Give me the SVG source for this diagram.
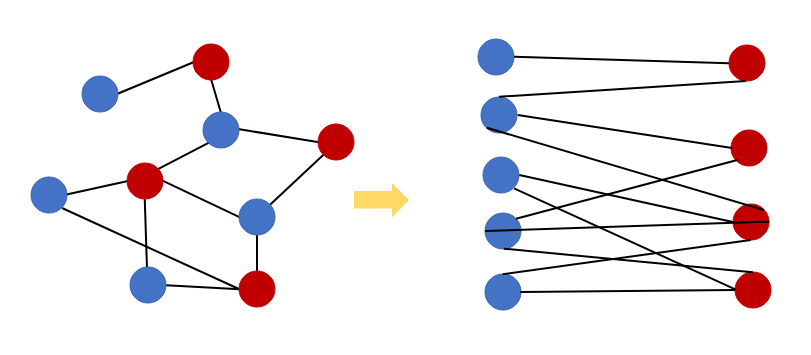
<svg xmlns="http://www.w3.org/2000/svg" width="811" height="355" viewBox="0 0 811 355">
<style>
.e{stroke:#000;stroke-width:2;fill:none}
.b{fill:#4472C4;stroke:#3B65B0;stroke-width:1}
.r{fill:#C00000;stroke:#C00000;stroke-width:1}
</style>
<rect width="811" height="355" fill="#fff"/>
<g id="left-connectors">
<line class="e" x1="117" y1="94" x2="194" y2="62"/>
<line class="e" x1="211" y1="79" x2="221" y2="113"/>
<line class="e" x1="238" y1="129" x2="319" y2="142.3"/>
<line class="e" x1="209" y1="142.6" x2="157" y2="169.6"/>
<line class="e" x1="128" y1="181" x2="66.5" y2="194.5"/>
<line class="e" x1="162" y1="180.4" x2="240" y2="217.3"/>
<line class="e" x1="144.7" y1="198" x2="147" y2="268"/>
<line class="e" x1="324" y1="154.3" x2="269.5" y2="205.2"/>
<line class="e" x1="257" y1="234" x2="257" y2="272"/>
<line class="e" x1="62" y1="208" x2="240" y2="289.5"/>
<line class="e" x1="166" y1="285.3" x2="240" y2="289.3"/>
</g>
<g id="nA"><circle class="b" cx="100" cy="94" r="18"/></g>
<g id="nB"><circle class="r" cx="211" cy="62" r="18"/></g>
<g id="nC"><circle class="b" cx="221" cy="130" r="18"/></g>
<g id="nD"><circle class="r" cx="336" cy="142" r="18"/></g>
<g id="nE"><circle class="r" cx="145" cy="181" r="18"/></g>
<g id="nF"><circle class="b" cx="49" cy="195" r="18"/></g>
<g id="nG"><circle class="b" cx="257" cy="217" r="18"/></g>
<g id="nH"><circle class="b" cx="148" cy="285" r="18"/></g>
<g id="nI"><circle class="r" cx="257" cy="289" r="18"/></g>
<g id="arrow"><polygon fill="#FFD966" points="354,191 392,191 392,183 409,200 392,217.5 392,208.5 354,208.5"/></g>
<g id="nL1"><circle class="b" cx="496" cy="57" r="18"/></g>
<g id="nL2"><circle class="b" cx="499" cy="115" r="18"/></g>
<g id="nL3"><circle class="b" cx="501" cy="175" r="18"/></g>
<g id="nL4"><circle class="b" cx="503" cy="231" r="18"/></g>
<g id="nL5"><circle class="b" cx="503" cy="292" r="18"/></g>
<g id="nR1"><circle class="r" cx="747" cy="63" r="18"/></g>
<g id="nR2"><circle class="r" cx="749" cy="148" r="18"/></g>
<g id="nR3"><circle class="r" cx="751" cy="222" r="18"/></g>
<g id="nR4"><circle class="r" cx="753" cy="290" r="18"/></g>
<g id="right-connectors">
<line class="e" x1="514" y1="56.7" x2="729" y2="63.3"/>
<line class="e" x1="746" y1="81" x2="499" y2="96.7"/>
<line class="e" x1="517.7" y1="115" x2="732" y2="148"/>
<line class="e" x1="486.7" y1="127.7" x2="764" y2="210"/>
<line class="e" x1="519.3" y1="175" x2="734" y2="222.3"/>
<line class="e" x1="514" y1="188.3" x2="735.3" y2="289.3"/>
<line class="e" x1="737.3" y1="160" x2="516" y2="218.7"/>
<line class="e" x1="485.3" y1="231" x2="769.3" y2="221.7"/>
<line class="e" x1="504" y1="248.7" x2="752.7" y2="272.3"/>
<line class="e" x1="750.7" y1="240" x2="502.7" y2="274.3"/>
<line class="e" x1="520.3" y1="292" x2="735.3" y2="290"/>
</g>
</svg>
